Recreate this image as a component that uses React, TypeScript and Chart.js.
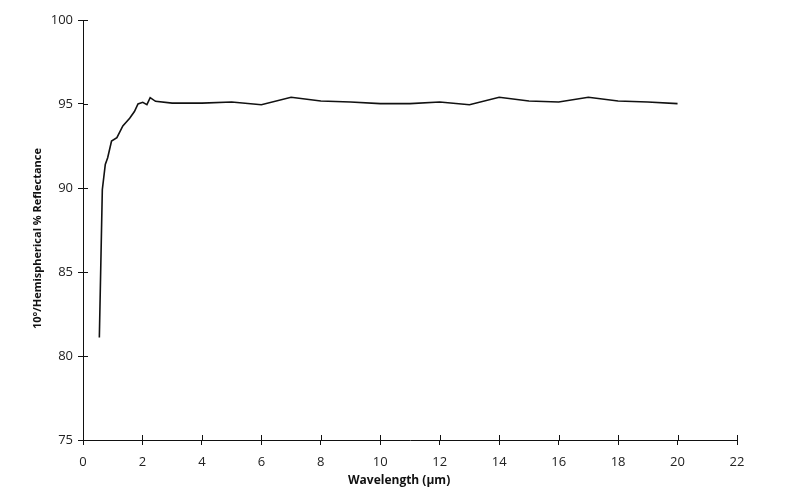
import React, { useEffect, useRef } from "react";
import { Chart, registerables } from "chart.js";

Chart.register(...registerables);

const wavelengths = [0.55, 0.65, 0.75, 0.83, 0.96, 1.14, 1.34, 1.57, 1.73, 1.85, 2.01, 2.15, 2.26, 2.44, 3, 4, 5, 6, 7, 8, 9, 10, 11, 12, 13, 14, 15, 16, 17, 18, 19, 20];
const reflectance = [81.1, 89.9, 91.4, 91.8, 92.8, 93.0, 93.7, 94.15, 94.55, 95.0, 95.1, 94.96, 95.38, 95.16, 95.05, 95.05, 95.12, 94.96, 95.4, 95.18, 95.12, 95.02, 95.02, 95.12, 94.96, 95.4, 95.18, 95.12, 95.4, 95.18, 95.12, 95.02];
const xTitle = "Wavelength (μm)";
const yTitle = "10°/Hemispherical % Reflectance";

const FONT = "'Open Sans', 'DejaVu Sans', sans-serif";

const crossTicks = {
  id: "crossTicks",
  afterDraw(chart: any) {
    const ctx = chart.ctx;
    const xs = chart.scales.x;
    const ys = chart.scales.y;
    ctx.save();
    ctx.strokeStyle = "#111";
    ctx.lineWidth = 1;
    ctx.beginPath();
    xs.ticks.forEach((t: any) => {
      const px = Math.round(xs.getPixelForValue(t.value)) + 0.5;
      ctx.moveTo(px, ys.bottom);
      ctx.lineTo(px, ys.bottom - 5);
    });
    ys.ticks.forEach((t: any) => {
      const py = Math.round(ys.getPixelForValue(t.value)) + 0.5;
      ctx.moveTo(xs.left, py);
      ctx.lineTo(xs.left + 5, py);
    });
    ctx.stroke();
    ctx.restore();
  },
};

export default function App() {
  const ref = useRef<HTMLCanvasElement>(null);
  useEffect(() => {
    document.body.style.margin = "0";
    const chart = new Chart(ref.current!, {
      type: "line",
      data: {
        datasets: [
          {
            data: wavelengths.map((w, i) => ({ x: w, y: reflectance[i] })),
            borderColor: "#111",
            borderWidth: 1.6,
            pointRadius: 0,
            tension: 0,
            fill: false,
          },
        ],
      },
      plugins: [crossTicks],
      options: {
        animation: false,
        responsive: false,
        maintainAspectRatio: false,
        layout: { padding: { top: 20, right: 63, left: 0, bottom: 0 } },
        plugins: { legend: { display: false }, tooltip: { enabled: false } },
        scales: {
          x: {
            type: "linear",
            min: 0,
            max: 22,
            ticks: { stepSize: 2, color: "#222", font: { family: FONT, size: 13 }, padding: 9, maxRotation: 0 },
            grid: { drawOnChartArea: false, drawTicks: true, tickLength: 5, color: "#111" },
            border: { display: true, color: "#111", width: 1 },
            title: { display: true, text: xTitle + "       ", color: "#111", font: { family: FONT, size: 12, weight: "bold" }, padding: { top: 3, bottom: 16 } },
            afterFit: (s: any) => { s.height = 64; },
          },
          y: {
            min: 75,
            max: 100,
            ticks: { stepSize: 5, color: "#222", font: { family: FONT, size: 13 }, padding: 5 },
            grid: { drawOnChartArea: false, drawTicks: true, tickLength: 5, color: "#111" },
            border: { display: true, color: "#111", width: 1 },
            title: { display: true, text: yTitle + "      ", color: "#111", font: { family: FONT, size: 11, weight: "bold" }, padding: { top: 31, bottom: 0 } },
            afterFit: (s: any) => { s.width = 83; },
          },
        },
      },
    } as any);
    return () => chart.destroy();
  }, []);
  return <canvas ref={ref} width={800} height={504} style={{ display: "block" }} />;
}
